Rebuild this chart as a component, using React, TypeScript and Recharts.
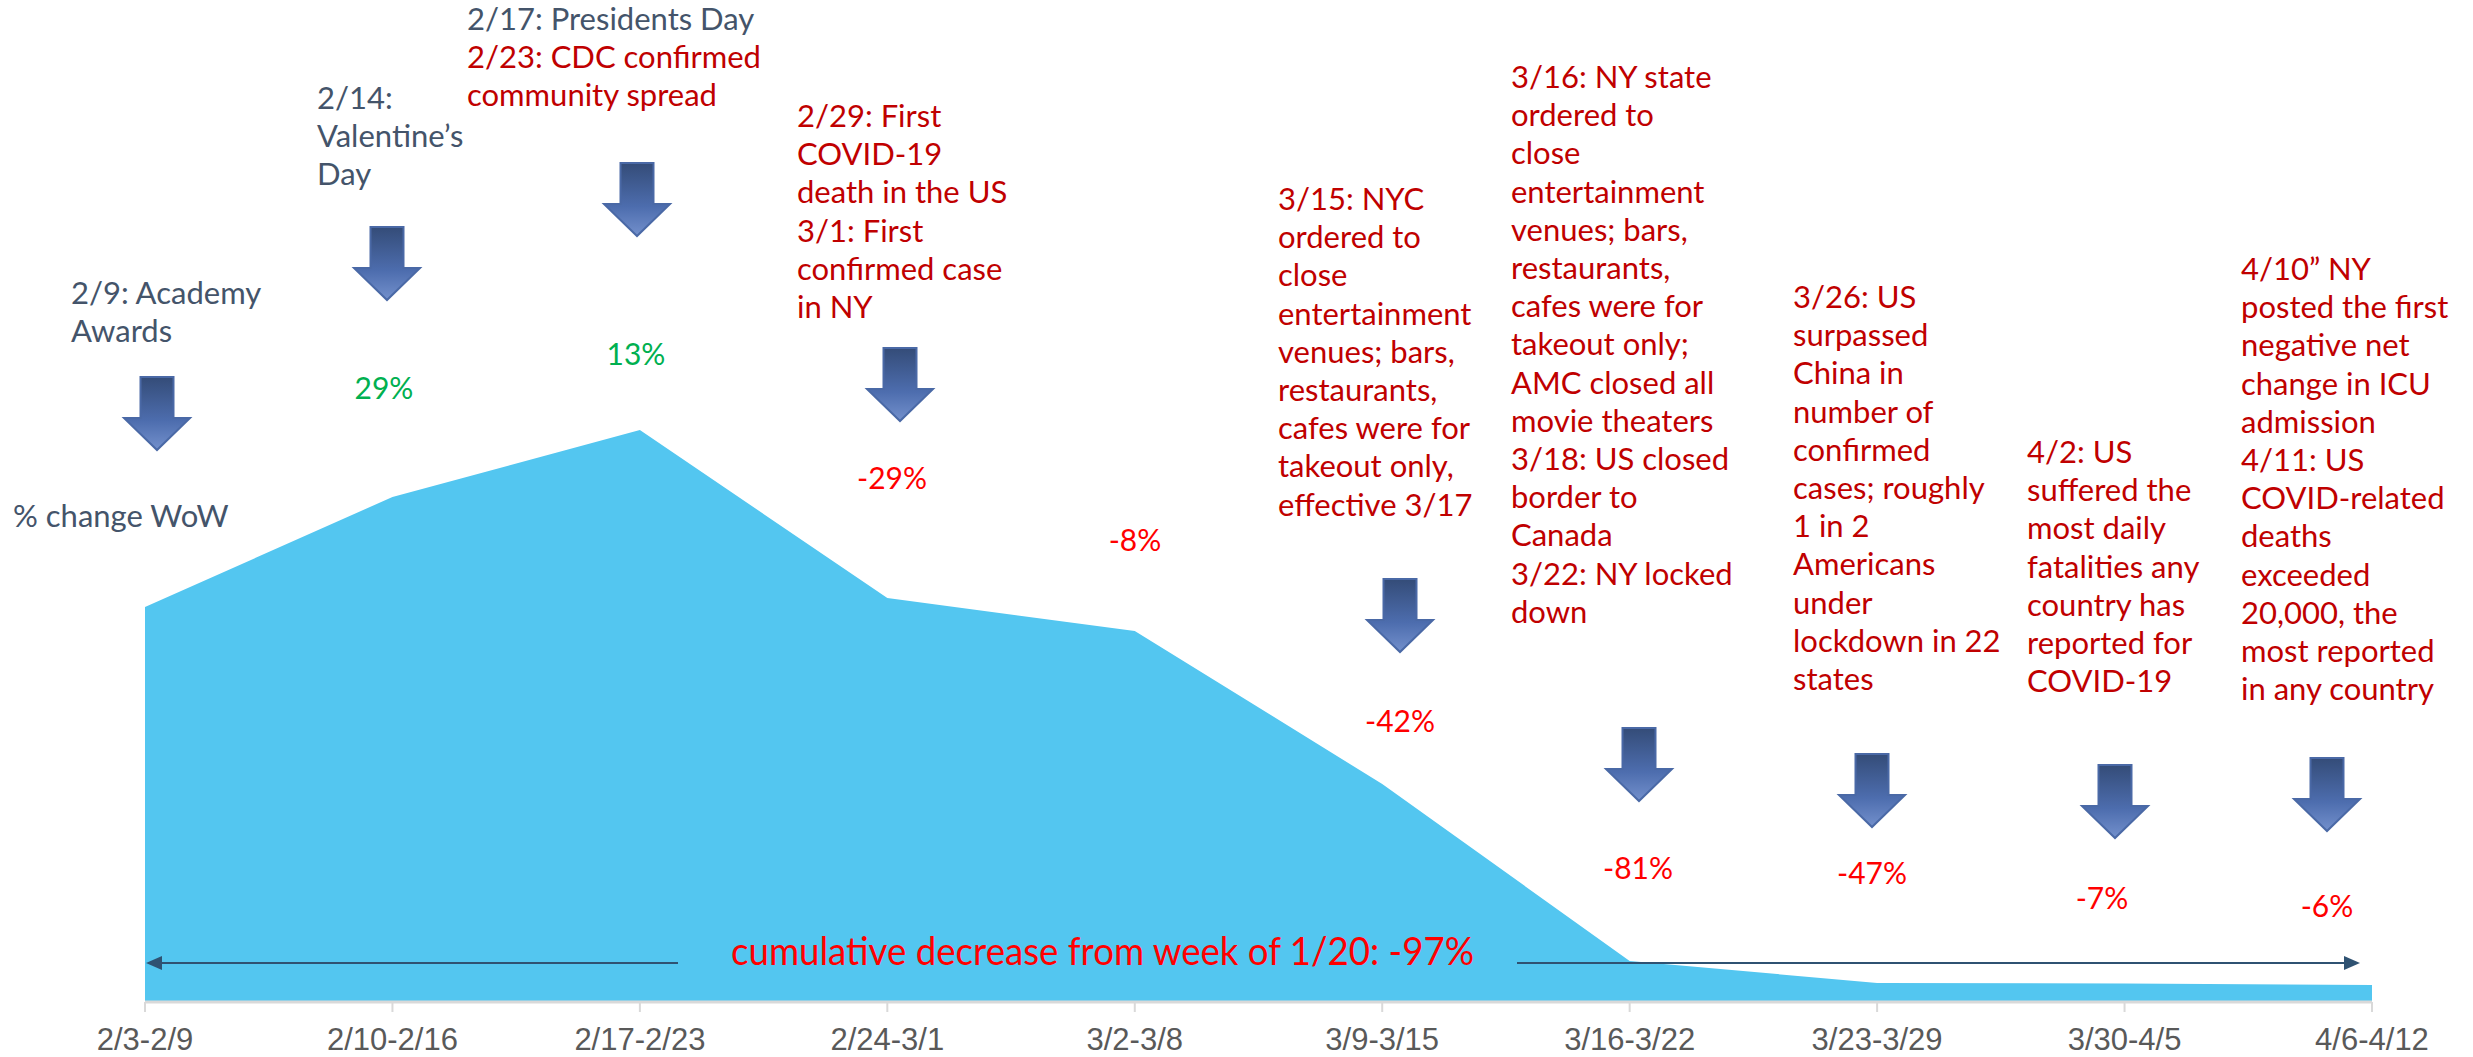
import { AreaChart, Area, XAxis, YAxis } from "recharts";

// weekly volume (relative units)
const weeks = [
  "2/3-2/9",
  "2/10-2/16",
  "2/17-2/23",
  "2/24-3/1",
  "3/2-3/8",
  "3/9-3/15",
  "3/16-3/22",
  "3/23-3/29",
  "3/30-4/5",
  "4/6-4/12",
];
const volume = [395, 505, 572, 404, 371, 218, 41, 19, 18.5, 17];
const weekChange = ["", "29%", "13%", "-29%", "-8%", "-42%", "-81%", "-47%", "-7%", "-6%"];

const cumulativeNote = "cumulative decrease from week of 1/20: -97%";
const axisNote = "% change WoW";

type NoteLine = { text: string; tone: "slate" | "red" };
const slate = (text: string): NoteLine => ({ text, tone: "slate" });
const red = (text: string): NoteLine => ({ text, tone: "red" });

const notes: NoteLine[][] = [
  [slate("2/9: Academy"), slate("Awards")],
  [slate("2/14:"), slate("Valentine’s"), slate("Day")],
  [slate("2/17: Presidents Day"), red("2/23: CDC confirmed"), red("community spread")],
  [red("2/29: First"), red("COVID-19"), red("death in the US"), red("3/1: First"), red("confirmed case"), red("in NY")],
  [
    red("3/15: NYC"), red("ordered to"), red("close"), red("entertainment"), red("venues; bars,"),
    red("restaurants,"), red("cafes were for"), red("takeout only,"), red("effective 3/17"),
  ],
  [
    red("3/16: NY state"), red("ordered to"), red("close"), red("entertainment"), red("venues; bars,"),
    red("restaurants,"), red("cafes were for"), red("takeout only;"), red("AMC closed all"),
    red("movie theaters"), red("3/18: US closed"), red("border to"), red("Canada"),
    red("3/22: NY locked"), red("down"),
  ],
  [
    red("3/26: US"), red("surpassed"), red("China in"), red("number of"), red("confirmed"),
    red("cases; roughly"), red("1 in 2"), red("Americans"), red("under"), red("lockdown in 22"), red("states"),
  ],
  [red("4/2: US"), red("suffered the"), red("most daily"), red("fatalities any"), red("country has"), red("reported for"), red("COVID-19")],
  [
    red("4/10” NY"), red("posted the first"), red("negative net"), red("change in ICU"), red("admission"),
    red("4/11: US"), red("COVID-related"), red("deaths"), red("exceeded"), red("20,000, the"),
    red("most reported"), red("in any country"),
  ],
];

// layout of the annotation layer
const notePos = [
  [71, 304],
  [317, 109],
  [467, 30],
  [797, 127],
  [1278, 210],
  [1511, 88],
  [1793, 308],
  [2027, 463],
  [2241, 280],
];
const arrowPos = [
  [157, 377],
  [387, 227],
  [637, 163],
  [900, 348],
  [1400, 579],
  [1639, 728],
  [1872, 754],
  [2115, 765],
  [2327, 758],
];
const changePos = [
  [0, 0],
  [384, 399],
  [636, 365],
  [892, 489],
  [1135, 551],
  [1400, 732],
  [1638, 879],
  [1872, 884],
  [2102, 909],
  [2327, 917],
];

const W = 2473;
const H = 1057;
const LINE = 38.2;
const NOTE_FONT = "Lato, 'Open Sans', sans-serif";
const COLORS = {
  area: "#53C6F0",
  slate: "#44546A",
  red: "#C00000",
  bright: "#FF0000",
  green: "#00B050",
  tick: "#595959",
  grid: "#D9D9D9",
  line: "#2F5272",
};

function downArrow(cx: number, ty: number) {
  return `M${cx - 16.5},${ty} L${cx + 16.5},${ty} L${cx + 16.5},${ty + 41} L${cx + 33},${ty + 41} L${cx},${ty + 73} L${cx - 33},${ty + 41} L${cx - 16.5},${ty + 41} Z`;
}

function Annotations() {
  return (
    <svg
      width={W}
      height={H}
      style={{ position: "absolute", left: 0, top: 0, pointerEvents: "none" }}
    >
      <defs>
        <linearGradient id="arrowFill" x1="0" y1="0" x2="0" y2="1">
          <stop offset="0%" stopColor="#344C78" />
          <stop offset="60%" stopColor="#4D6DAE" />
          <stop offset="100%" stopColor="#7390CC" />
        </linearGradient>
      </defs>

      {notes.map((lines, i) => (
        <text key={`note-${i}`} fontFamily={NOTE_FONT} fontSize={31}>
          {lines.map((l, j) => (
            <tspan
              key={j}
              x={notePos[i][0]}
              y={notePos[i][1] + j * LINE}
              fill={l.tone === "slate" ? COLORS.slate : COLORS.red}
            >
              {l.text}
            </tspan>
          ))}
        </text>
      ))}

      <text x={13} y={527} fontFamily={NOTE_FONT} fontSize={31} fill={COLORS.slate}>
        {axisNote}
      </text>

      {arrowPos.map(([cx, ty], i) => (
        <path
          key={`arrow-${i}`}
          d={downArrow(cx, ty)}
          fill="url(#arrowFill)"
          stroke="#4A69A6"
          strokeWidth={2}
          strokeLinejoin="miter"
        />
      ))}

      {weekChange.map((c, i) =>
        c ? (
          <text
            key={`chg-${i}`}
            x={changePos[i][0]}
            y={changePos[i][1]}
            textAnchor="middle"
            fontFamily={NOTE_FONT}
            fontSize={30}
            fill={c.startsWith("-") ? COLORS.bright : COLORS.green}
          >
            {c}
          </text>
        ) : null
      )}

      {/* cumulative decrease span */}
      <line x1={160} y1={963} x2={678} y2={963} stroke={COLORS.line} strokeWidth={2} />
      <path d="M146,963 L162,956 L162,970 Z" fill={COLORS.line} />
      <line x1={1517} y1={963} x2={2345} y2={963} stroke={COLORS.line} strokeWidth={2} />
      <path d="M2360,963 L2344,956 L2344,970 Z" fill={COLORS.line} />
      <text
        x={731}
        y={965}
        fontFamily={NOTE_FONT}
        fontSize={38}
        fill={COLORS.bright}
        textLength={743}
        lengthAdjust="spacingAndGlyphs"
      >
        {cumulativeNote}
      </text>
    </svg>
  );
}

export default function App() {
  const data = weeks.map((week, i) => ({ week, volume: volume[i] }));
  return (
    <div style={{ position: "absolute", left: 0, top: 0, width: W, height: H, background: "#fff" }}>
      <AreaChart
        width={W}
        height={H}
        data={data}
        margin={{ top: 402, right: 101, bottom: 15, left: 145 }}
      >
        <XAxis
          dataKey="week"
          height={40}
          interval={0}
          tickSize={10}
          tickMargin={16}
          axisLine={{ stroke: COLORS.grid, strokeWidth: 3 }}
          tickLine={{ stroke: COLORS.grid, strokeWidth: 2 }}
          tick={{ fill: COLORS.tick, fontSize: 31, fontFamily: "'Liberation Sans', Arial, sans-serif" }}
        />
        <YAxis hide domain={[0, 600]} />
        <Area
          type="linear"
          dataKey="volume"
          stroke="none"
          fill={COLORS.area}
          fillOpacity={1}
          isAnimationActive={false}
        />
      </AreaChart>
      <Annotations />
    </div>
  );
}
